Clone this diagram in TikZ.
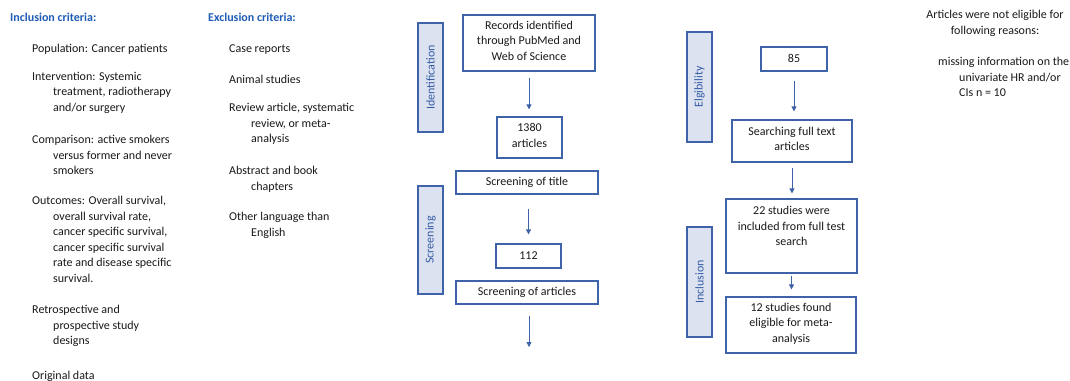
\documentclass[tikz,border=0pt]{standalone}
\usepackage{fontspec}
\setmainfont{Carlito}
\usetikzlibrary{arrows.meta}
\definecolor{boxblue}{RGB}{62,99,168}
\definecolor{sidefill}{RGB}{221,226,241}
\definecolor{sideblue}{RGB}{52,92,165}
\definecolor{headblue}{RGB}{30,92,182}
\definecolor{txt}{RGB}{25,25,25}
\begin{document}
\begin{tikzpicture}[x=1pt,y=-1pt,
 every node/.style={font=\fontsize{12}{15.5}\selectfont, text=txt, inner sep=0pt},
 para/.style={anchor=north west, align=left, execute at begin node=\strut},
 head/.style={anchor=west, font=\fontsize{12}{15.5}\selectfont\bfseries, text=headblue},
 flowbox/.style={draw=boxblue, line width=1.2pt, align=center, fill=white,
   execute at begin node=\strut, execute at end node=\strut},
 sidebox/.style={draw=boxblue, fill=sidefill, line width=1.3pt, rotate=90,
   minimum height=25pt, text=sideblue},
 arr/.style={draw=boxblue, line width=0.8pt, -{Triangle[width=5pt,length=5pt]}}
]
\useasboundingbox[fill=white] (0,0) rectangle (1070,380);

% Inclusion criteria
\node[head] (inchead) at (10,17) {Inclusion criteria:};
\node[para] (pop) at (32,41) {Population: Cancer patients};
\node[para] (interv) at (32,72) {Intervention: Systemic\\\hspace*{21pt}treatment, radiotherapy\\\hspace*{21pt}and/or surgery};
\node[para] (comp) at (32,135) {Comparison: active smokers\\\hspace*{21pt}versus former and never\\\hspace*{21pt}smokers};
\node[para] (outc) at (32,196) {Outcomes: Overall survival,\\\hspace*{21pt}overall survival rate,\\\hspace*{21pt}cancer specific survival,\\\hspace*{21pt}cancer specific survival\\\hspace*{21pt}rate and disease specific\\\hspace*{21pt}survival.};
\node[para] (retro) at (32,305) {Retrospective and\\\hspace*{21pt}prospective study\\\hspace*{21pt}designs};
\node[para] (orig) at (32,368) {Original data};

% Exclusion criteria
\node[head] (exchead) at (208,17) {Exclusion criteria:};
\node[para] (case) at (229,41) {Case reports};
\node[para] (animal) at (229,72) {Animal studies};
\node[para] (review) at (229,103) {Review article, systematic\\\hspace*{22pt}review, or meta-\\\hspace*{22pt}analysis};
\node[para] (abstr) at (229,166) {Abstract and book\\\hspace*{22pt}chapters};
\node[para] (lang) at (229,212) {Other language than\\\hspace*{22pt}English};

% Middle flow
\node[sidebox, minimum width=109pt] (ident) at (430.5,77.5) {Identification};
\node[sidebox, minimum width=108pt] (screen) at (430.5,240) {Screening};
\node[flowbox, minimum width=132pt, minimum height=56pt] (rec) at (529,43) {Records identified\\through PubMed and\\Web of Science};
\node[flowbox, minimum width=65pt, minimum height=41pt] (n1380) at (529.5,137.5) {1380\\articles};
\node[flowbox, minimum width=142pt, minimum height=23pt] (title) at (527,182.5) {Screening of title};
\node[flowbox, minimum width=65pt, minimum height=24pt] (n112) at (528.5,256) {112};
\node[flowbox, minimum width=142pt, minimum height=23pt] (artic) at (527,292.5) {Screening of articles};
\coordinate (endA) at (529,347);

\draw[arr, shorten <=6pt, shorten >=7pt] (rec.south) -- (rec.south |- n1380.north);
\draw[arr, shorten <=14pt, shorten >=9pt] (title.south -| n112.north) -- (n112.north);
\draw[arr, shorten <=11pt] (artic.south -| endA) -- (endA);

% Right flow
\node[sidebox, minimum width=110pt] (elig) at (699.5,87) {Elgibility};
\node[sidebox, minimum width=110pt] (incl) at (699.5,282) {Inclusion};
\node[flowbox, minimum width=66pt, minimum height=24pt] (n85) at (794,59) {85};
\node[flowbox, minimum width=120pt, minimum height=42pt] (full) at (792,141) {Searching full text\\articles};
\node[flowbox, minimum width=131pt, minimum height=74pt] (n22) at (791.5,236) {22 studies were\\included from full test\\search\\~};
\node[flowbox, minimum width=130pt, minimum height=56pt] (n12) at (791,325) {12 studies found\\eligible for meta-\\analysis};

\draw[arr, shorten <=9pt, shorten >=8pt] (n85.south) -- (n85.south |- full.north);
\draw[arr, shorten <=5pt, shorten >=5pt] (full.south) -- (full.south |- n22.north);
\draw[arr, shorten <=2pt, shorten >=7pt] (n22.south) -- (n22.south |- n12.north);

% Right notes
\node[anchor=north, align=center, execute at begin node=\strut] (notel) at (995,10) {Articles were not eligible for\\following reasons:};
\node[para] (missing) at (938,57) {missing information on the\\\hspace*{21pt}univariate HR and/or\\\hspace*{21pt}CIs n = 10};
\end{tikzpicture}
\end{document}
